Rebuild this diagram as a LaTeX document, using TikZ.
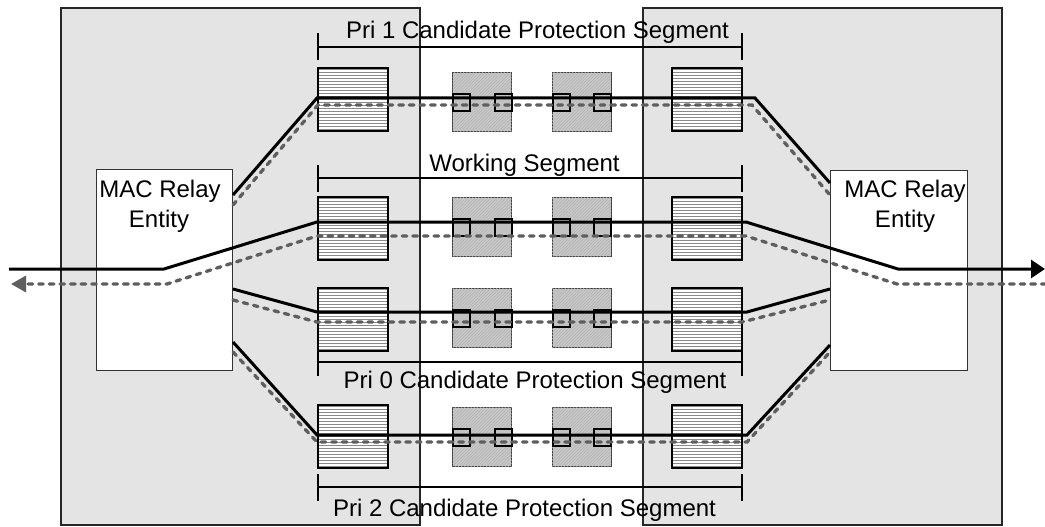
\documentclass[tikz,border=0pt]{standalone}
\usepackage{fontspec}
\setmainfont{Liberation Sans}
\usetikzlibrary{arrows.meta,calc,patterns.meta}
\definecolor{panel}{HTML}{E4E4E4}
\definecolor{hatchfill}{HTML}{C8C8C8}
\definecolor{hatchline}{HTML}{B0B0B0}
\definecolor{portfill}{HTML}{C2C2C2}
\definecolor{stripe}{HTML}{8A8A8A}
\definecolor{dashgray}{HTML}{5E5E5E}
\begin{document}
\begin{tikzpicture}[x=1pt,y=-1pt,
  panelbox/.style={draw=black!85,line width=1.3pt,fill=panel},
  relay/.style={draw=black!80,line width=1pt,fill=white,inner sep=0pt,anchor=north west},
  fifo/.style={draw=black,line width=1.7pt,fill=stripe,inner sep=0pt,anchor=north west,
    minimum width=70pt,minimum height=63pt,
    path picture={\foreach \k in {1,...,20}{
      \draw[white,line width=1.4pt] ($(path picture bounding box.north west)+(-5,3*\k)$) -- ++(90,0);}}},
  bridgebox/.style={draw=black!75,line width=1.1pt,fill=hatchfill,inner sep=0pt,anchor=north west,
    minimum width=59pt,minimum height=59pt,
    postaction={pattern={Lines[angle=45,distance=2.2pt,line width=0.5pt]},pattern color=hatchline}},
  port/.style={draw=black,line width=1.7pt,fill=portfill,inner sep=0pt,anchor=north west,
    minimum width=17pt,minimum height=17pt},
  bracket/.style={line width=1.3pt},
  sig/.style={line width=3pt,line join=miter},
  backpath/.style={draw=dashgray,line width=3.3pt,line cap=round,dash pattern=on 4.6pt off 6pt},
  caption/.style={font=\fontsize{24}{30}\selectfont,inner sep=0pt,anchor=base}]

\useasboundingbox (0,0) rectangle (1045,527);
\fill[white] (0,0) rectangle (1045,527);

% bridge panels
\draw[panelbox] (61,8) rectangle (420,525);
\draw[panelbox] (643,8) rectangle (1002,525);

% MAC relay entities
\node[relay,minimum width=136pt,minimum height=201pt] (relayL) at (96,169) {};
\node[relay,minimum width=137pt,minimum height=200pt] (relayR) at (830,170) {};
\node[caption] (relayLa) at (160,197) {MAC Relay};
\node[caption] (relayLb) at (159,227) {Entity};
\node[caption] (relayRa) at (905,197) {MAC Relay};
\node[caption] (relayRb) at (905,227) {Entity};

% port queues
\node[fifo] (fL1) at (317,67) {};
\node[fifo] (fR1) at (671,67) {};
\node[fifo] (fL2) at (317,196) {};
\node[fifo] (fR2) at (671,196) {};
\node[fifo] (fL3) at (317,287) {};
\node[fifo] (fR3) at (671,287) {};
\node[fifo] (fL4) at (317,404) {};
\node[fifo] (fR4) at (671,404) {};

% intermediate bridges with their ports
\foreach \r/\by/\py in {1/72/93.5,2/197/218,3/288/309,4/407/428}{
  \node[bridgebox] (bA\r) at (452,\by) {};
  \node[bridgebox] (bB\r) at (551.5,\by) {};
  \node[port] (pA\r) at (452,\py) {};
  \node[port] (pB\r) at (494,\py) {};
  \node[port] (pC\r) at (552,\py) {};
  \node[port] (pD\r) at (593,\py) {};
}

% segment brackets
\foreach \n/\yy in {1/47,2/178,3/362,4/487}{
  \coordinate (sl\n) at (318,\yy);
  \coordinate (sr\n) at (742,\yy);
  \draw[bracket] ([yshift=13.5pt]sl\n) -- ([yshift=-13.5pt]sl\n)
                 (sl\n) -- (sr\n)
                 ([yshift=13.5pt]sr\n) -- ([yshift=-13.5pt]sr\n);
}
\node[caption] (seg1) at (537.5,39) {Pri 1 Candidate Protection Segment};
\node[caption] (seg2) at (524.5,171) {Working Segment};
\node[caption] (seg3) at (535,388) {Pri 0 Candidate Protection Segment};
\node[caption] (seg4) at (524.5,516) {Pri 2 Candidate Protection Segment};

% path corner points
\coordinate (inL) at (9,269);
\coordinate (kL) at (164,269);
\coordinate (kR) at (898,269);
\coordinate (outR) at (1045,269);
\coordinate (dinR) at (1046,284);
\coordinate (dkR) at (897,284);
\coordinate (dkL) at (167,284);
\coordinate (doutL) at (11,284);

% row 1 (Pri 1)
\draw[sig] (relayL.east |- 0,195) -- (317,98) -- (755,98) -- (relayR.west |- 0,183);
\draw[backpath] (relayL.east |- 0,205) -- (318,105) -- (752,105) -- (relayR.west |- 0,195);
% row 2 (working)
\draw[sig,-{Triangle[length=14pt,width=18pt]}] (inL) -- (kL) -- (317,222) -- (746,222) -- (kR) -- (outR);
\draw[backpath,-{Triangle[length=15pt,width=16pt,fill=dashgray]}] (dinR) -- (dkR) -- (746,236) -- (317,236) -- (dkL) -- (doutL);
% row 3 (Pri 0)
\draw[sig] (relayL.east |- 0,289) -- (317,312) -- (747,312) -- (relayR.west |- 0,289);
\draw[backpath] (relayL.east |- 0,300) -- (317,322) -- (742,322) -- (relayR.west |- 0,300);
% row 4 (Pri 2)
\draw[sig] (relayL.east |- 0,342) -- (317,435) -- (747,435) -- (relayR.west |- 0,345);
\draw[backpath] (relayL.east |- 0,352) -- (317,442) -- (747,442) -- (relayR.west |- 0,352);
\end{tikzpicture}
\end{document}
